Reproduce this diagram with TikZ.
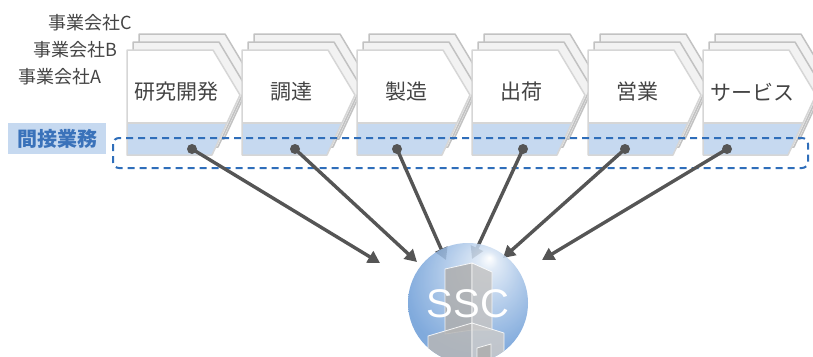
\documentclass[tikz,border=0pt]{standalone}
\usepackage{fontspec}
\setmainfont{Noto Sans CJK JP}
\newfontfamily\sscfont{Liberation Sans}
\usetikzlibrary{arrows.meta}

\definecolor{backgray}{HTML}{C2C2C2}
\definecolor{backfill}{HTML}{F2F2F2}
\definecolor{frontgray}{HTML}{D6D6D6}
\definecolor{workblue}{HTML}{C6D9F0}
\definecolor{labelblue}{HTML}{3A72BA}
\definecolor{dashblue}{HTML}{2F6EBA}
\definecolor{textgray}{HTML}{444444}
\definecolor{arrowgray}{HTML}{555555}
\definecolor{sscblue}{HTML}{6A9BD6}
\definecolor{towerL}{HTML}{AEAEAE}
\definecolor{towerR}{HTML}{C4C4C4}

% ball behind the SSC label, light spot up and to the right
\pgfdeclareradialshading{sscball}{\pgfpoint{9bp}{19bp}}{%
  color(0bp)=(white); color(4bp)=(white!75!sscblue);
  color(14bp)=(sscblue!55!white); color(30bp)=(sscblue); color(50bp)=(sscblue)}

\begin{document}
\begin{tikzpicture}[x=1pt,y=-1pt,
    layer/.style={draw=backgray, fill=backfill, line width=1.5pt, line join=round},
    front/.style={draw=frontgray, line width=1.5pt, line join=round},
    stage/.style={font=\fontsize{21}{21}\selectfont, text=textgray},
    company/.style={font=\fontsize{18}{18}\selectfont, text=textgray, anchor=east},
    flow/.style={draw=arrowgray, line width=3.4pt, -{Triangle[length=12pt,width=13pt]}},
    dot/.style={circle, fill=arrowgray, inner sep=0pt, minimum size=10pt}]

  \useasboundingbox (0,0) rectangle (813,356);

  % one stack of three company sheets per stage
  \foreach \x/\name/\dotx/\lbl in {127/rd/192/研究開発, 242/buy/295/調達, 357/make/397/製造,
      472/ship/523/出荷, 588/sales/625/営業, 703/serv/727/サービス} {
    \foreach \dx/\dy in {12/16, 6/8}
      \draw[layer, shift={(\x+\dx,50-\dy)}]
        (0,0) -- (86,0) -- (113,45) -- (85,105) -- (0,105) -- cycle;
    \begin{scope}[shift={(\x,50)}]
      \fill[white] (0,0) -- (86,0) -- (113,45) -- (85,105) -- (0,105) -- cycle;
      \fill[workblue] (0,73) -- (100,73) -- (85,105) -- (0,105) -- cycle;
      \draw[front] (0,73) -- (100,73);
      \draw[front] (0,0) -- (86,0) -- (113,45) -- (85,105) -- (0,105) -- cycle;
    \end{scope}
    \node[stage] (\name) at (\x+49,92) {\lbl};
    \node[dot] (\name-dot) at (\dotx,149) {};
  }

  \node[company] (coC) at (136,23) {事業会社C};
  \node[company] (coB) at (121,50) {事業会社B};
  \node[company] (coA) at (105,77) {事業会社A};

  % indirect work band
  \node[fill=workblue, text=labelblue, font=\bfseries\fontsize{20}{20}\selectfont,
    minimum width=98pt, minimum height=31pt, inner sep=0pt] (indirect) at (57,138.5) {間接業務};
  \draw[dashblue, line width=2pt, dash pattern=on 7pt off 5pt, rounded corners=6pt]
    (113,138) rectangle (808,168);

  % arrows into the SSC
  \coordinate (t1) at (380,263);
  \coordinate (t2) at (417,262);
  \coordinate (t3) at (446,260);
  \coordinate (t4) at (472,259);
  \coordinate (t5) at (503,258);
  \coordinate (t6) at (542,260);
  \draw[flow] (rd-dot.center) -- (t1);
  \draw[flow] (buy-dot.center) -- (t2);
  \draw[flow] (make-dot.center) -- (t3);
  \draw[flow] (ship-dot.center) -- (t4);
  \draw[flow] (sales-dot.center) -- (t5);
  \draw[flow] (serv-dot.center) -- (t6);

  % SSC ball with a building inside
  \begin{scope}
    \clip (468,303) circle (60pt);
    \shade[shading=sscball, opacity=.85] (468,303) circle (60pt);
    \begin{scope}[opacity=.85, draw=white, line width=.8pt, line join=round]
      \filldraw[fill=towerL] (445,269) -- (472,263) -- (472,330) -- (445,334) -- cycle;
      \filldraw[fill=towerR] (472,263) -- (492,272) -- (492,330) -- (472,330) -- cycle;
      \filldraw[fill=towerL!90!white] (428,336) -- (472,323) -- (472,370) -- (428,370) -- cycle;
      \filldraw[fill=towerR!90!white] (472,323) -- (504,333) -- (504,370) -- (472,370) -- cycle;
      \filldraw[fill=towerL] (477,348) -- (491,344) -- (491,370) -- (477,370) -- cycle;
    \end{scope}
  \end{scope}
  \node[font=\sscfont\fontsize{40}{40}\selectfont, text=white] (ssc) at (468,304) {SSC};
\end{tikzpicture}
\end{document}
